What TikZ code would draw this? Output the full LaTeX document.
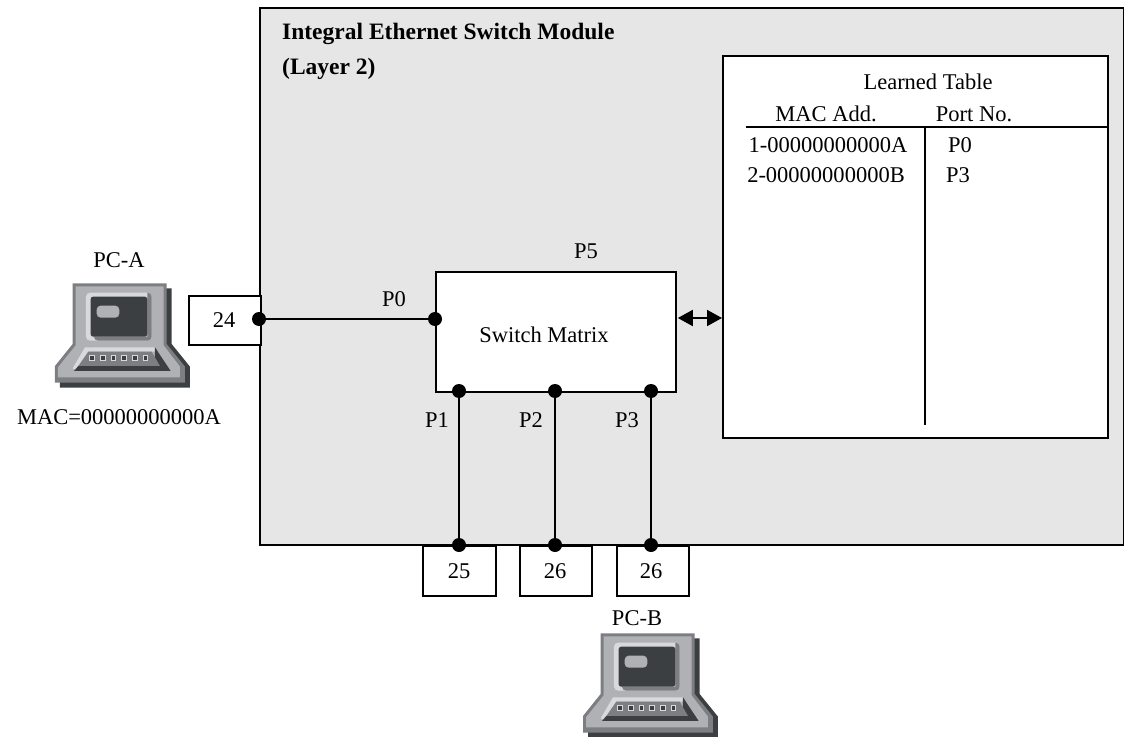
\documentclass[tikz,border=0pt]{standalone}
\usepackage{fontspec}
\setmainfont{Liberation Serif}
\usetikzlibrary{arrows.meta}
\definecolor{panel}{HTML}{E6E6E6}
\definecolor{pcdark}{HTML}{3C3F42}
\definecolor{pcmid}{HTML}{7C7E82}
\definecolor{pcbody}{HTML}{B0B1B5}
\definecolor{pclight}{HTML}{D8D9DB}
\tikzset{
  x=1bp,y=-1bp,
  lbl/.style={anchor=base,inner sep=0pt,font=\fontsize{22.5bp}{26bp}\selectfont},
  ttl/.style={anchor=base west,inner sep=0pt,font=\fontsize{23.5bp}{28bp}\selectfont\bfseries},
  boxw/.style={draw=black,line width=1.8bp,fill=white},
  wire/.style={draw=black,line width=1.8bp},
  dot/.style={circle,fill=black,inner sep=0pt,minimum size=14bp},
  pc/.pic={
    % coordinates in zoomed units (3 per pixel)
    \begin{scope}[x=0.3333bp,y=-0.3333bp]
    \fill[pcdark] (113,55) -- (395,55) -- (395,222) -- (450,290) -- (450,353) -- (60,353) -- (60,303) -- (113,237) -- cycle;
    \fill[pcmid] (98,40) -- (380,40) -- (380,222) -- (435,290) -- (435,338) -- (45,338) -- (45,288) -- (98,222) -- cycle;
    \fill[pcbody] (107,49) -- (371,49) -- (371,226) -- (420,290) -- (420,322) -- (54,322) -- (54,292) -- (107,226) -- cycle;
    % screen
    \fill[pclight,rounded corners=4bp] (138,68) rectangle (335,212);
    \fill[pcmid] (322,68) [rounded corners=4bp] -- (335,68) -- (335,212) -- (162,212) [sharp corners] -- (162,200) -- (322,200) -- cycle;
    \fill[pcdark,rounded corners=2.5bp] (152,80) rectangle (322,200);
    \fill[pcbody,rounded corners=4bp] (170,107) rectangle (238,143);
    % keyboard
    \fill[pclight] (135,232) -- (345,232) -- (345,245) -- (145,245) -- (110,300) -- (98,295) -- cycle;
    \fill[pcdark] (345,232) -- (392,303) -- (102,303) -- (115,288) -- (345,288) -- cycle;
    \fill[pcmid] (145,245) -- (335,245) -- (360,288) -- (115,288) -- cycle;
    \foreach \k in {0,...,5}{
      \fill[pclight] ({148+32*\k},255) rectangle ++(17,17);
      \fill[pcdark] ({151+32*\k},258) rectangle ++(11,11);
    }
    \end{scope}
  }
}
\begin{document}
\begin{tikzpicture}
\useasboundingbox (0,0) rectangle (1124,737);
% panel
\path[boxw,fill=panel] (260,8) rectangle (1124,545);
\node[anchor=north west,inner sep=0pt,minimum width=863bp,minimum height=537bp] (panel) at (260,8) {};
% PCs
\pic at (40,270) {pc};
\pic at (568,620) {pc};
% boxes
\node[boxw,anchor=north west,inner sep=0pt,minimum width=385bp,minimum height=382bp] (table) at (722,55) {};
\node[boxw,anchor=north west,inner sep=0pt,minimum width=240bp,minimum height=120bp] (matrix) at (435,271) {};
\node[boxw,anchor=north west,inner sep=0pt,minimum width=72bp,minimum height=49bp] (p24) at (188,295) {};
\node[boxw,anchor=north west,inner sep=0pt,minimum width=73bp,minimum height=50bp] (p25) at (422,545) {};
\node[boxw,anchor=north west,inner sep=0pt,minimum width=72bp,minimum height=50bp] (p26a) at (519,545) {};
\node[boxw,anchor=north west,inner sep=0pt,minimum width=72bp,minimum height=50bp] (p26b) at (616,545) {};
% dots
\node[dot] (d0) at (259,319) {};
\node[dot] (m0) at (435,319) {};
\node[dot] (m1) at (459,391) {};
\node[dot] (m2) at (555,391) {};
\node[dot] (m3) at (651,391) {};
\node[dot] (b1) at (459,545) {};
\node[dot] (b2) at (555,545) {};
\node[dot] (b3) at (651,545) {};
% connectors
\draw[wire] (d0.center) -- (m0.center);
\draw[wire] (m1.center) -- (b1.center);
\draw[wire] (m2.center) -- (b2.center);
\draw[wire] (m3.center) -- (b3.center);
\coordinate (al) at (matrix.east |- 0,318);
\coordinate (ar) at (table.west |- 0,318);
\draw[wire,{Triangle[length=15bp,width=16bp]}-{Triangle[length=15bp,width=16bp]},shorten <=1bp,shorten >=0bp] (al) -- (ar);
% table rules
\coordinate (hl) at (746,127);
\coordinate (hr) at (1107,127);
\coordinate (vt) at (925,127);
\coordinate (vb) at (925,425);
\draw[wire] (hl) -- (hr);
\draw[wire] (vt) -- (vb);
% texts
\node[ttl] (t1) at (282,40) {Integral Ethernet Switch Module};
\node[ttl] (t2) at (282,75) {(Layer 2)};
\node[lbl] (lt) at (928,90) {Learned Table};
\node[lbl] (ma) at (826,121) {MAC Add.};
\node[lbl] (pn) at (974,121) {Port No.};
\node[lbl] (r1a) at (828,152) {1-00000000000A};
\node[lbl] (r2a) at (826,182) {2-00000000000B};
\node[lbl] (r1b) at (960,152) {P0};
\node[lbl] (r2b) at (958,182) {P3};
\node[lbl] (pca) at (119,267) {PC-A};
\node[lbl] (mac) at (119,424) {MAC=00000000000A};
\node[lbl] (pcb) at (637,625) {PC-B};
\node[lbl] (sm) at (544,342) {Switch Matrix};
\node[lbl] (p5) at (586,258) {P5};
\node[lbl] (p0) at (394,306) {P0};
\node[lbl] (p1) at (437,427) {P1};
\node[lbl] (p2) at (531,427) {P2};
\node[lbl] (p3) at (627,427) {P3};
\node[lbl] at (224,327) {24};
\node[lbl] at (459,578) {25};
\node[lbl] at (555,578) {26};
\node[lbl] at (651,578) {26};
\end{tikzpicture}
\end{document}
